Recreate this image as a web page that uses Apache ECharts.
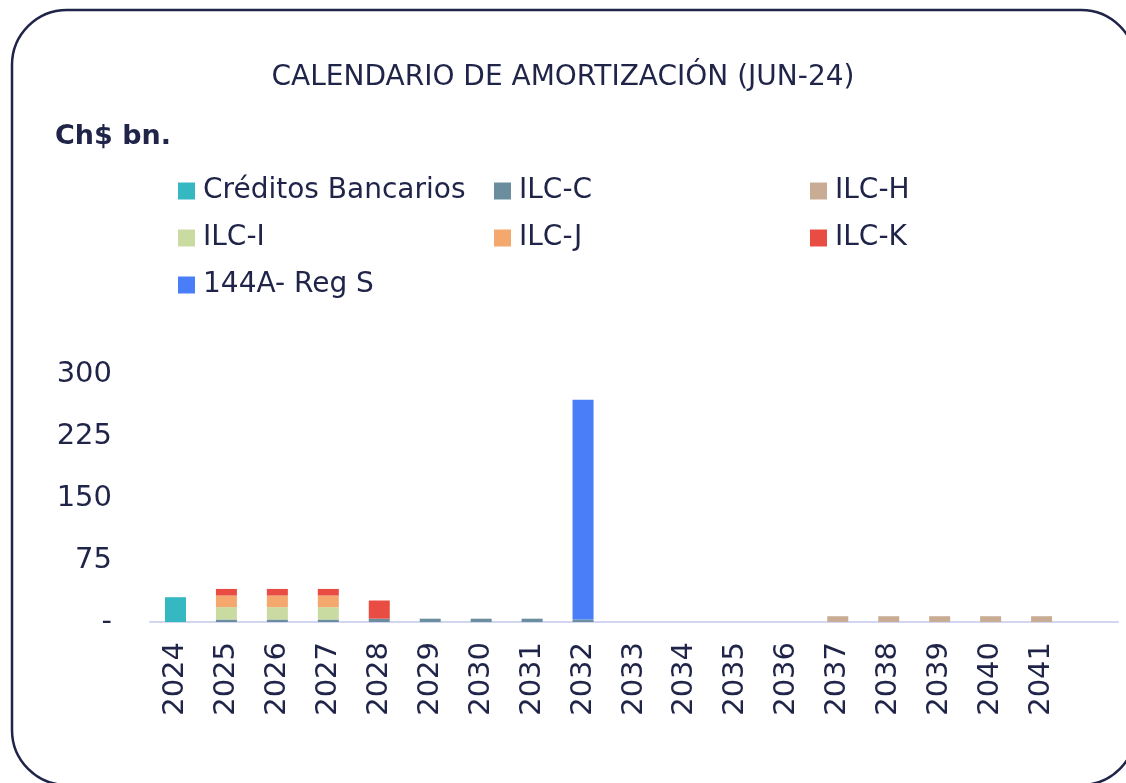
<!DOCTYPE html>
<html>
<head>
<meta charset="utf-8">
<script src="https://cdn.jsdelivr.net/npm/echarts@6/dist/echarts.min.js"></script>
<style>
  html, body { margin: 0; padding: 0; background: #fff; }
  #chart { width: 1126px; height: 783px; }
</style>
</head>
<body>
<div id="chart"></div>
<script>
// años del calendario (la última categoría queda vacía)
var years = ['2024', '2025', '2026', '2027', '2028', '2029', '2030', '2031', '2032',
  '2033', '2034', '2035', '2036', '2037', '2038', '2039', '2040', '2041', ''];

var creditos = [30, null, null, null, null, null, null, null, null, null, null, null, null, null, null, null, null, null, null];
var ilcC = [null, 3, 3, 3, 4, 4, 4, 4, 3, null, null, null, null, null, null, null, null, null, null];
var ilcH = [null, null, null, null, null, null, null, null, null, null, null, null, null, 7, 7, 7, 7, 7, null];
var ilcI = [null, 15, 15, 15, null, null, null, null, null, null, null, null, null, null, null, null, null, null, null];
var ilcJ = [null, 14, 14, 14, null, null, null, null, null, null, null, null, null, null, null, null, null, null, null];
var ilcK = [null, 8, 8, 8, 22, null, null, null, null, null, null, null, null, null, null, null, null, null, null];
var reg144 = [null, null, null, null, null, null, null, null, 266, null, null, null, null, null, null, null, null, null, null];

var yTicks = ['-', '75', '150', '225', '300'];

var ink = '#1f2448';
var font = 'DejaVu Sans';

var seriesDefs = [
  {name: 'Créditos Bancarios', data: creditos, color: '#35b8c2'},
  {name: 'ILC-C', data: ilcC, color: '#6a8e9e'},
  {name: 'ILC-H', data: ilcH, color: '#c8ad94'},
  {name: 'ILC-I', data: ilcI, color: '#c9dba1'},
  {name: 'ILC-J', data: ilcJ, color: '#f4a86d'},
  {name: 'ILC-K', data: ilcK, color: '#e84c42'},
  {name: '144A- Reg S', data: reg144, color: '#4a7ef8'}
];

// orden de apilado: ILC-C abajo
var stackOrder = ['Créditos Bancarios', 'ILC-C', 'ILC-H', 'ILC-I', 'ILC-J', 'ILC-K', '144A- Reg S'];

// posición de cada leyenda (3 columnas)
var legendPos = [[178, 0], [494, 0], [810, 0], [178, 1], [494, 1], [810, 1], [178, 2]];

var legends = seriesDefs.map(function (s, i) {
  return {
    data: [s.name],
    left: legendPos[i][0],
    top: 177 + legendPos[i][1] * 47,
    padding: 0,
    icon: 'rect',
    itemWidth: 17,
    itemHeight: 17,
    itemGap: 8,
    selectedMode: false,
    textStyle: {color: ink, fontSize: 28, fontFamily: font, padding: [0, 0, 0, 3]}
  };
});

var series = stackOrder.map(function (name) {
  var s = seriesDefs.filter(function (d) { return d.name === name; })[0];
  return {
    name: s.name,
    type: 'bar',
    stack: 'total',
    data: s.data,
    barWidth: 21,
    itemStyle: {color: s.color},
    emphasis: {disabled: true}
  };
});

var options = {
  animation: false,
  textStyle: {fontFamily: font},
  title: [
    {
      text: 'CALENDARIO DE AMORTIZACIÓN (JUN-24)',
      left: 'center',
      top: 59,
      textStyle: {color: ink, fontSize: 28, fontWeight: 'normal', fontFamily: font}
    },
    {
      text: 'Ch$ bn.',
      left: 50,
      top: 118,
      textStyle: {color: ink, fontSize: 27, fontWeight: 'bold', fontFamily: font}
    }
  ],
  legend: legends,
  graphic: [{
    type: 'rect',
    shape: {x: 12, y: 10, width: 1124, height: 775, r: 55},
    style: {fill: 'none', stroke: ink, lineWidth: 2.5},
    silent: true,
    z: -1
  }],
  grid: {left: 150, right: 8, top: 374, bottom: 161},
  xAxis: {
    type: 'category',
    data: years,
    axisTick: {show: false},
    axisLine: {lineStyle: {color: '#d3d6f0', width: 2}},
    axisLabel: {rotate: 90, color: ink, fontSize: 29, margin: 20, interval: 0, fontFamily: font}
  },
  yAxis: {
    type: 'value',
    min: 0,
    max: 300,
    interval: 75,
    splitLine: {show: false},
    axisLine: {show: false},
    axisTick: {show: false},
    axisLabel: {
      color: ink, fontSize: 29, margin: 38, fontFamily: font,
      formatter: function (v) { return yTicks[Math.round(v / 75)]; }
    }
  },
  series: series
};

var myChart = echarts.init(document.getElementById('chart'));
myChart.setOption(options);
</script>
</body>
</html>
